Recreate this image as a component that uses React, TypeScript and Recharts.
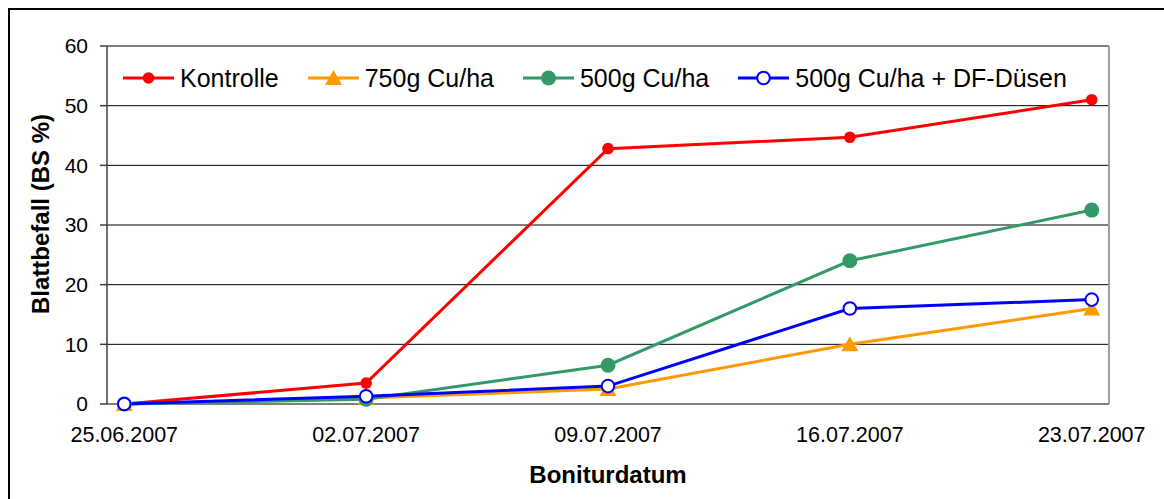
import {
  CartesianGrid,
  Line,
  LineChart,
  ReferenceLine,
  XAxis,
  YAxis,
} from 'recharts';

// Boniturtermine (Tage ab 25.06.2007)
const dates = ['25.06.2007', '02.07.2007', '09.07.2007', '16.07.2007', '23.07.2007'];
const days = [0, 7, 14, 21, 28];

// Blattbefall in BS %
const kontrolle = [0, 3.5, 42.8, 44.7, 51];
const cu750 = [0, 1, 2.5, 10, 16];
const cu500 = [0, 0.8, 6.5, 24, 32.5];
const cu500df = [0, 1.3, 3, 16, 17.5];

const yTicks = [0, 10, 20, 30, 40, 50, 60];

const FONT = '"Liberation Sans", Arial, sans-serif';

const data = days.map((day, i) => ({
  day,
  kontrolle: kontrolle[i],
  cu750: cu750[i],
  cu500: cu500[i],
  cu500df: cu500df[i],
}));

// tick marks sit between the day cells (Excel date axis)
const markTicks = days.map((d) => d - 0.5);
const xDomain = [days[0] - 0.5, days[days.length - 1] + 0.5];

type MarkerKind = 'dot' | 'triangle' | 'bigdot' | 'ring';

const series: { key: string; name: string; color: string; marker: MarkerKind }[] = [
  { key: 'kontrolle', name: 'Kontrolle', color: '#FF0000', marker: 'dot' },
  { key: 'cu750', name: '750g Cu/ha', color: '#FF9900', marker: 'triangle' },
  { key: 'cu500', name: '500g Cu/ha', color: '#339966', marker: 'bigdot' },
  { key: 'cu500df', name: '500g Cu/ha + DF-Düsen', color: '#0000FF', marker: 'ring' },
];

function Marker({ cx, cy, color, kind }: { cx: number; cy: number; color: string; kind: MarkerKind }) {
  if (cx == null || cy == null) return null;
  switch (kind) {
    case 'triangle':
      return (
        <polygon
          points={`${cx},${cy - 8} ${cx + 8.5},${cy + 7} ${cx - 8.5},${cy + 7}`}
          fill={color}
          stroke='none'
        />
      );
    case 'bigdot':
      return <circle cx={cx} cy={cy} r={7.5} fill={color} stroke='none' />;
    case 'ring':
      return <circle cx={cx} cy={cy} r={6.3} fill='#fff' stroke={color} strokeWidth={2} />;
    default:
      return <circle cx={cx} cy={cy} r={5.8} fill={color} stroke='none' />;
  }
}

function LegendBox() {
  return (
    <div
      style={{
        position: 'absolute',
        left: 123,
        top: 66,
        display: 'flex',
        alignItems: 'center',
        fontFamily: FONT,
        fontSize: 25,
        lineHeight: '24px',
        color: '#000',
        whiteSpace: 'nowrap',
      }}
    >
      {series.map((s) => (
        <div key={s.key} style={{ display: 'flex', alignItems: 'center', marginRight: 29 }}>
          <svg width={51} height={24} style={{ marginRight: 6 }}>
            <line x1={0} y1={12} x2={51} y2={12} stroke={s.color} strokeWidth={3} />
            <Marker cx={25.5} cy={12} color={s.color} kind={s.marker} />
          </svg>
          <span>{s.name}</span>
        </div>
      ))}
    </div>
  );
}

export default function App() {
  return (
    <div
      style={{
        position: 'absolute',
        left: 0,
        top: 0,
        width: 1164,
        height: 499,
        overflow: 'hidden',
        background: '#fff',
      }}
    >
      <div
        style={{
          position: 'absolute',
          left: 8,
          top: 8,
          width: 1300,
          height: 700,
          border: '2px solid #000',
        }}
      />
      <LineChart
        width={1164}
        height={499}
        data={data}
        margin={{ top: 46, right: 55, bottom: 0, left: 0 }}
        style={{ position: 'absolute', left: 0, top: 0, fontFamily: FONT }}
      >
        <CartesianGrid vertical={false} stroke='#000' strokeWidth={1} />
        <XAxis
          xAxisId='a'
          dataKey='day'
          type='number'
          domain={xDomain}
          ticks={markTicks}
          tickFormatter={() => ''}
          height={0}
          tickSize={7}
          stroke='#303030'
          strokeWidth={1.5}
          allowDataOverflow
        />
        <XAxis
          xAxisId='b'
          dataKey='day'
          type='number'
          domain={xDomain}
          ticks={days}
          tickFormatter={(v) => dates[days.indexOf(v)] ?? ''}
          height={95}
          tickSize={0}
          tickMargin={23}
          axisLine={false}
          tickLine={false}
          tick={{ fill: '#000', fontSize: 21.5, fontFamily: FONT }}
          interval={0}
          allowDataOverflow
          label={({ viewBox }: any) => (
            <text
              x={viewBox.x + viewBox.width / 2}
              y={viewBox.y + 79}
              textAnchor='middle'
              fontFamily={FONT}
              fontSize={24}
              fontWeight='bold'
              fill='#000'
            >
              Boniturdatum
            </text>
          )}
        />
        <YAxis
          domain={[0, 60]}
          ticks={yTicks}
          width={107}
          tickSize={7}
          tickMargin={12}
          stroke='#404040'
          strokeWidth={1.5}
          tick={{ fill: '#000', fontSize: 21, fontFamily: FONT }}
          interval={0}
          label={({ viewBox }: any) => {
            const cx = 40;
            const cy = viewBox.y + viewBox.height / 2 - 11;
            return (
              <text
                x={cx}
                y={cy}
                transform={`rotate(-90, ${cx}, ${cy})`}
                textAnchor='middle'
                dominantBaseline='central'
                fontFamily={FONT}
                fontSize={24}
                fontWeight='bold'
                fill='#000'
              >
                Blattbefall (BS %)
              </text>
            );
          }}
        />
        <ReferenceLine y={60} xAxisId='b' stroke='#808080' strokeWidth={2} />
        <ReferenceLine x={xDomain[1]} xAxisId='b' stroke='#a0a0a0' strokeWidth={2} />
        {series.map((s) => (
          <Line
            key={s.key}
            xAxisId='b'
            type='linear'
            dataKey={s.key}
            name={s.name}
            stroke={s.color}
            strokeWidth={3}
            dot={(p: any) => (
              <Marker key={`${s.key}-${p.index}`} cx={p.cx} cy={p.cy} color={s.color} kind={s.marker} />
            )}
            activeDot={false}
            isAnimationActive={false}
          />
        ))}
      </LineChart>
      <LegendBox />
    </div>
  );
}
